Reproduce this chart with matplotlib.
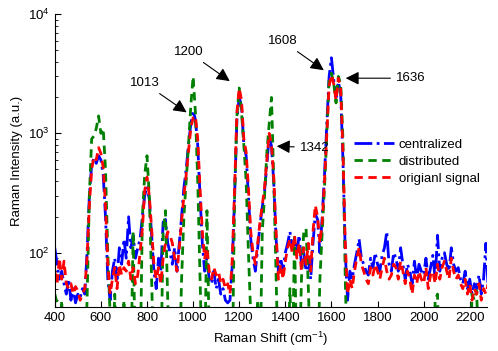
import numpy as np
import matplotlib
matplotlib.use("Agg")
import matplotlib.pyplot as plt

plt.rcParams['font.family'] = ['Liberation Sans', 'DejaVu Sans']
plt.rcParams['font.size'] = 9.5
plt.rcParams['mathtext.fontset'] = 'custom'
plt.rcParams['mathtext.rm'] = 'Liberation Sans'

# Raman shift grid, 400..2280 cm^-1 in 10 cm^-1 steps
shift = np.arange(400, 2290, 10)

original = [
    70, 55, 90, 60, 85, 55, 50, 55, 45, 52,
    48, 40, 45, 50, 90, 250, 500, 640, 600, 760,
    680, 520, 250, 80, 45, 60, 75, 50, 80, 65,
    75, 70, 85, 60, 75, 55, 65, 100, 160, 330,
    430, 300, 160, 80, 60, 75, 55, 90, 120, 150,
    140, 120, 90, 70, 110, 180, 300, 450, 700, 1100,
    1350, 1400, 900, 350, 150, 90, 110, 70, 60, 75,
    65, 70, 55, 60, 50, 55, 45, 90, 350, 1500,
    2400, 1900, 900, 700, 350, 150, 100, 80, 120, 180,
    250, 350, 600, 1000, 800, 420, 150, 60, 80, 60,
    85, 110, 130, 100, 140, 90, 120, 70, 110, 80,
    120, 70, 150, 250, 200, 120, 180, 400, 1000, 2500,
    3100, 2600, 1900, 2900, 2400, 700, 120, 45, 60, 50,
    70, 90, 110, 80, 70, 60, 55, 75, 65, 80,
    70, 60, 75, 90, 70, 60, 65, 80, 75, 60,
    85, 70, 55, 70, 60, 45, 65, 55, 70, 60,
    55, 75, 50, 65, 70, 55, 80, 60, 75, 85,
    70, 60, 90, 70, 60, 65, 55, 50, 60, 45,
    55, 40, 50, 45, 55, 40, 50, 45, 55,
]

centralized = [
    110, 80, 60, 70, 55, 45, 60, 40, 50, 38,
    45, 42, 50, 45, 100, 300, 550, 620, 560, 650,
    600, 450, 200, 60, 40, 70, 90, 60, 110, 80,
    130, 90, 200, 110, 140, 90, 110, 130, 200, 300,
    360, 280, 140, 70, 50, 90, 70, 180, 190, 120,
    100, 80, 110, 70, 120, 200, 350, 500, 800, 1200,
    1550, 1300, 800, 300, 120, 70, 90, 60, 55, 70,
    50, 60, 45, 50, 40, 38, 40, 80, 300, 1300,
    2000, 1700, 800, 650, 300, 130, 90, 70, 110, 170,
    240, 330, 550, 950, 780, 380, 130, 70, 90, 70,
    100, 120, 150, 110, 130, 100, 140, 80, 100, 70,
    90, 60, 120, 210, 190, 100, 200, 450, 1200, 3000,
    4300, 2800, 2000, 2700, 2200, 600, 100, 40, 70, 60,
    80, 100, 130, 90, 80, 70, 65, 90, 75, 100,
    80, 70, 95, 110, 150, 80, 70, 100, 90, 70,
    110, 80, 60, 80, 70, 55, 85, 60, 80, 70,
    65, 90, 60, 75, 95, 60, 140, 70, 90, 100,
    80, 70, 110, 80, 70, 75, 60, 55, 70, 50,
    60, 45, 55, 50, 65, 45, 60, 120, 50,
]

distributed = [
    45, 38, 10, 40, 10, 10, 10, 10, 10, 10,
    10, 10, 10, 10, 40, 300, 900, 950, 1100, 1400,
    1000, 1100, 500, 100, 30, 10, 45, 10, 10, 10,
    40, 10, 10, 10, 150, 10, 10, 10, 200, 450,
    650, 300, 60, 10, 10, 10, 10, 150, 225, 40,
    10, 10, 10, 10, 10, 60, 200, 400, 800, 1700,
    3000, 1500, 400, 60, 10, 10, 225, 20, 10, 10,
    10, 10, 10, 10, 10, 10, 10, 10, 300, 1400,
    2400, 1500, 800, 400, 100, 30, 10, 10, 40, 10,
    150, 300, 700, 1200, 2000, 400, 60, 10, 10, 10,
    10, 10, 50, 10, 135, 10, 10, 60, 150, 160,
    50, 10, 10, 10, 10, 60, 150, 350, 1000, 2800,
    3200, 2600, 1800, 3000, 2600, 900, 60, 10, 10, 10,
    10, 10, 10, 10, 10, 10, 10, 10, 10, 10,
    10, 10, 10, 10, 10, 10, 10, 10, 10, 10,
    10, 10, 10, 10, 10, 10, 10, 10, 10, 10,
    10, 10, 10, 10, 10, 40, 45, 10, 10, 10,
    10, 10, 10, 10, 10, 10, 10, 10, 10, 10,
    10, 45, 40, 48, 10, 10, 10, 10, 10,
]

# peak labels: text, arrow tip (x, y), text position (x, y)
peaks = [
    ("1013", (972, 1500), (790, 2630)),
    ("1200", (1159, 2740), (981, 4800)),
    ("1608", (1567, 3380), (1389, 5920)),
    ("1636", (1662, 2900), (1944, 2900)),
    ("1342", (1363, 780), (1527, 760)),
]

fig = plt.figure(figsize=(4.98, 3.51), dpi=100)
ax = fig.add_axes([0.110, 0.125, 0.868, 0.835])

ax.plot(shift, centralized, color='#0000ff', ls='-.', lw=2, label='centralized')
ax.plot(shift, distributed, color='#008000', ls=(0, (3, 2)), lw=2, label='distributed')
ax.plot(shift, original, color='#ff0000', ls=(0, (3, 2)), lw=2, label='origianl signal')

ax.set_yscale('log')
ax.set_xlim(400, 2275)
ax.set_ylim(35, 1e4)
ax.set_xticks(range(400, 2201, 200))

for lab, tip, txt in peaks:
    ax.annotate(lab, xy=tip, xytext=txt, ha='center', va='center',
                arrowprops=dict(arrowstyle='-|>', color='k', lw=0.8,
                                mutation_scale=20, shrinkA=2, shrinkB=0))

ax.spines['top'].set_visible(False)
ax.spines['right'].set_visible(False)
ax.tick_params(which='both', direction='in', top=False, right=False)
ax.tick_params(which='major', length=4)
ax.tick_params(which='minor', length=2)

ax.set_xlabel('Raman Shift (cm$^{-1}$)')
ax.set_ylabel('Raman Intensity (a.u.)')

ax.legend(loc='upper left', bbox_to_anchor=(0.665, 0.615), frameon=False,
          handlelength=3.0, handletextpad=0.4, labelspacing=0.35, fontsize=9.5)

fig.savefig('out.png', dpi=100)
